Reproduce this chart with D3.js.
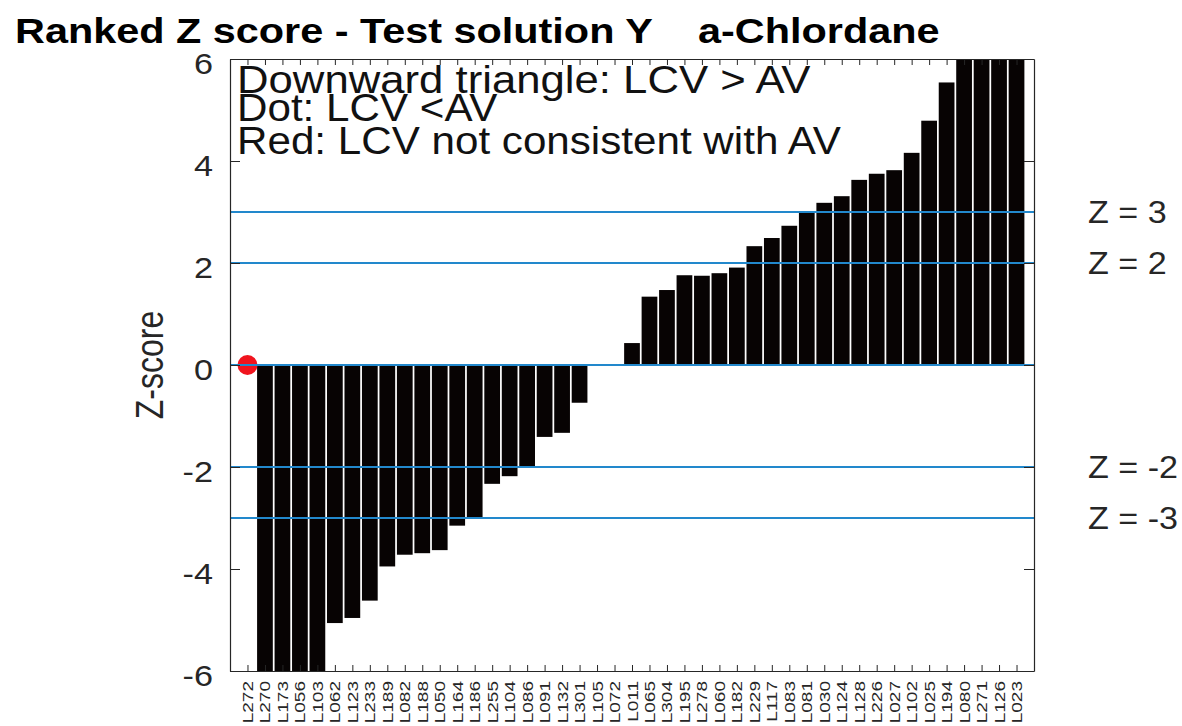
<!DOCTYPE html>
<html>
<head>
<meta charset="utf-8">
<script src="https://cdn.jsdelivr.net/npm/d3@7/dist/d3.min.js"></script>
<style>
  html, body { margin: 0; padding: 0; background: #fff; }
  svg { display: block; font-family: "Liberation Sans", Arial, sans-serif; }
</style>
</head>
<body>
<svg id="chart" width="1182" height="726"></svg>
<script>
// ---- data ----
const labs = ["L272","L270","L173","L056","L103","L062","L123","L233","L189","L082",
  "L188","L050","L164","L186","L255","L104","L086","L091","L132","L301",
  "L105","L072","L011","L065","L304","L195","L278","L060","L182","L229",
  "L117","L083","L081","L030","L124","L128","L226","L027","L102","L025",
  "L194","L080","L271","L126","L023"];
const zscores = [0, -6.5, -6.5, -6.5, -6.5, -5.06, -4.96, -4.62, -3.95, -3.72,
  -3.69, -3.63, -3.15, -3.0, -2.33, -2.18, -1.99, -1.41, -1.33, -0.74,
  0, 0, 0.43, 1.34, 1.47, 1.76, 1.75, 1.80, 1.91, 2.33,
  2.49, 2.73, 3.0, 3.18, 3.31, 3.63, 3.75, 3.82, 4.16, 4.79,
  5.54, 6.5, 6.5, 6.5, 6.5];
// markers: "dot" (LCV < AV), "tri" (LCV > AV); red = not consistent
const markerLabs = ["L272"];
const markerTypes = ["dot"];
const markerRed = [true];
const refLines = [3, 2, 0, -2, -3];
const refLabels = ["Z = 3", "Z = 2", "", "Z = -2", "Z = -3"];
const yTicks = [-6, -4, -2, 0, 2, 4, 6];
const titleText = "Ranked Z score - Test solution Y    a-Chlordane";
const noteLines = ["Downward triangle: LCV > AV", "Dot: LCV <AV", "Red: LCV not consistent with AV"];

// ---- layout ----
const svg = d3.select("#chart");
const L = 230, R = 1034, T = 59, B = 671;
const x = d3.scaleLinear().domain([0, labs.length + 1]).range([L, R]);
const y = d3.scaleLinear().domain([-6, 6]).range([B, T]);
const ink = "#262626";

svg.append("rect").attr("width", 1182).attr("height", 726).attr("fill", "#fff");

svg.append("defs").append("clipPath").attr("id", "plotclip")
  .append("rect").attr("x", L).attr("y", T).attr("width", R - L).attr("height", B - T);

const plot = svg.append("g").attr("clip-path", "url(#plotclip)");

// bars
const bw = 0.9;
plot.selectAll("rect.bar").data(zscores).join("rect")
  .attr("class", "bar")
  .attr("x", (d, i) => x(i + 1 - bw / 2))
  .attr("width", x(bw) - x(0))
  .attr("y", d => y(Math.max(0, d)))
  .attr("height", d => Math.abs(y(d) - y(0)))
  .attr("fill", "#070303");

// markers
markerLabs.forEach((lab, k) => {
  const i = labs.indexOf(lab);
  const cx = x(i + 1), cy = y(zscores[i]);
  const col = markerRed[k] ? "#f0141e" : "#000";
  if (markerTypes[k] === "dot") {
    plot.append("circle").attr("cx", cx).attr("cy", cy).attr("r", 10).attr("fill", col);
  } else {
    plot.append("path").attr("d", d3.symbol(d3.symbolTriangle, 200)())
      .attr("transform", `translate(${cx},${cy}) rotate(180)`).attr("fill", col);
  }
});

// reference lines
plot.selectAll("line.ref").data(refLines).join("line")
  .attr("class", "ref")
  .attr("x1", L).attr("x2", R)
  .attr("y1", d => y(d)).attr("y2", d => y(d))
  .attr("stroke", "#2288cc").attr("stroke-width", 2);

// axes
const gl = svg.append("g").attr("transform", `translate(${L},0)`)
  .call(d3.axisLeft(y).tickValues(yTicks).tickSizeInner(-10).tickSizeOuter(0)
    .tickPadding(17).tickFormat(d => String(d)));
gl.selectAll("text")
  .attr("font-size", 29).attr("fill", ink)
  .attr("dy", "0.5em")
  .attr("x", -17 / 1.18)
  .attr("transform", "scale(1.18,1)");

const gr = svg.append("g").attr("transform", `translate(${R},0)`)
  .call(d3.axisRight(y).tickValues(yTicks).tickSizeInner(-10).tickSizeOuter(0).tickFormat(""));

const idx = d3.range(1, labs.length + 1);
const gb = svg.append("g").attr("transform", `translate(0,${B})`)
  .call(d3.axisBottom(x).tickValues(idx).tickSizeInner(-6).tickSizeOuter(0)
    .tickFormat(d => labs[d - 1]));
gb.selectAll("text")
  .attr("font-size", 19).attr("fill", ink)
  .attr("y", null).attr("dy", null)
  .attr("text-anchor", "end")
  .attr("transform", "translate(5,10) scale(0.75,1) rotate(-90)");

const gt = svg.append("g").attr("transform", `translate(0,${T})`)
  .call(d3.axisTop(x).tickValues(idx).tickSizeInner(-6).tickSizeOuter(0).tickFormat(""));

[gl, gr, gb, gt].forEach(g => {
  g.select(".domain").attr("stroke", ink).attr("stroke-width", 1.2);
  g.selectAll(".tick line").attr("stroke", ink).attr("stroke-width", 1);
});

// reference labels
refLines.forEach((v, k) => {
  if (!refLabels[k]) return;
  svg.append("text")
    .attr("transform", `translate(1088,${y(v) + 11}) scale(1.1,1)`)
    .attr("font-size", 31).attr("fill", ink)
    .style("white-space", "pre")
    .text(refLabels[k]);
});

// y label
svg.append("text")
  .attr("transform", `translate(163,${y(0)}) scale(1.2,1) rotate(-90)`)
  .attr("text-anchor", "middle")
  .attr("font-size", 32).attr("fill", ink)
  .text("Z-score");

// title
svg.append("text")
  .attr("transform", "translate(15,43) scale(1.15,1)")
  .attr("font-size", 36).attr("font-weight", "bold").attr("fill", "#000")
  .style("white-space", "pre")
  .text(titleText);

// notes (tightly stacked as in the original figure)
const noteY = [93, 121, 154];
const noteSx = [1.15, 1.11, 1.11];
noteLines.forEach((t, k) => {
  svg.append("text")
    .attr("transform", `translate(237,${noteY[k]}) scale(${noteSx[k]},1)`)
    .attr("font-size", 38).attr("fill", "#111")
    .style("white-space", "pre")
    .text(t);
});
</script>
</body>
</html>
